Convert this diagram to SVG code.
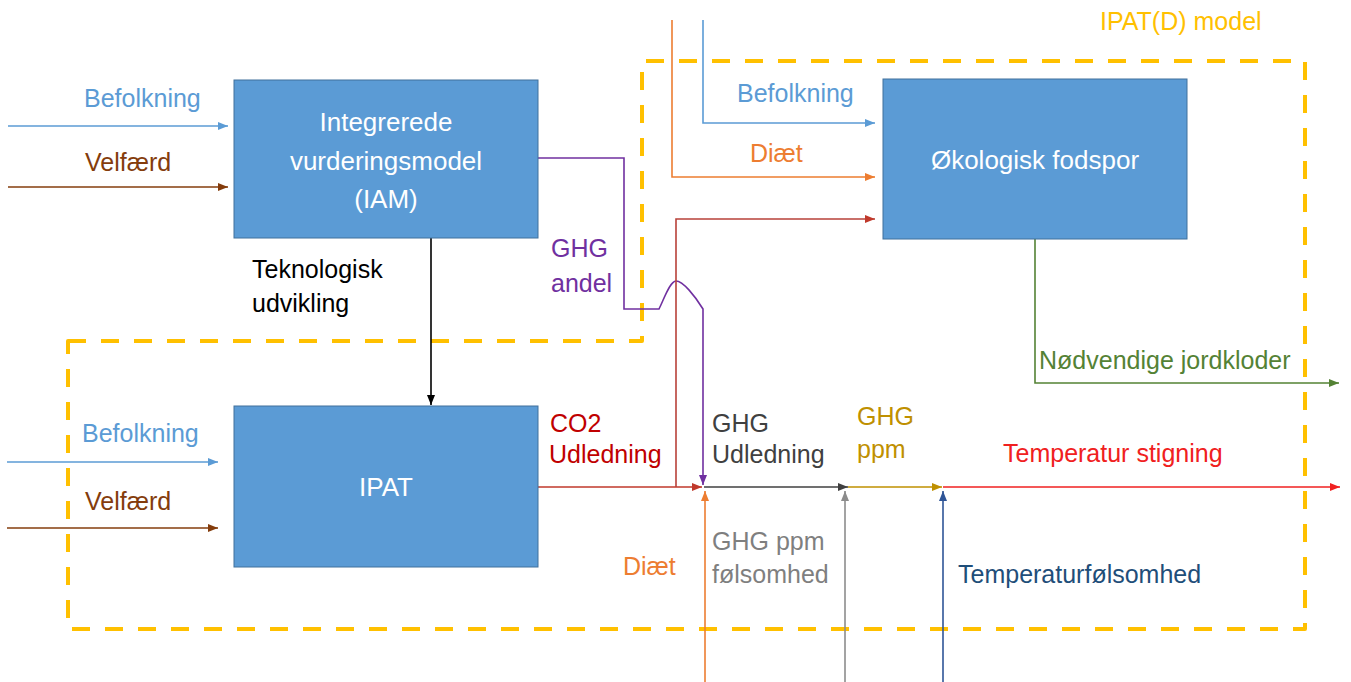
<svg xmlns="http://www.w3.org/2000/svg" width="1351" height="682" viewBox="0 0 1351 682">
  <style>
    text { font-family: "Liberation Sans", Arial, sans-serif; font-size: 25px; }
    .node rect { fill: #5B9BD5; stroke: #41719C; stroke-width: 1; }
    .node text { fill: #FFFFFF; text-anchor: middle; font-size: 26px; }
    .ln { fill: none; stroke-width: 1.6; }
    .boundary { fill: none; stroke: #FFC000; stroke-width: 4; stroke-dasharray: 18 15; stroke-linejoin: round; }
  </style>
  <defs>
    <marker id="ah-blue" viewBox="0 0 10 8" refX="10" refY="4" markerWidth="10" markerHeight="8" markerUnits="userSpaceOnUse" orient="auto"><path d="M0,0 L10,4 L0,8 Z" fill="#5B9BD5"/></marker>
    <marker id="ah-brown" viewBox="0 0 10 8" refX="10" refY="4" markerWidth="10" markerHeight="8" markerUnits="userSpaceOnUse" orient="auto"><path d="M0,0 L10,4 L0,8 Z" fill="#843C0C"/></marker>
    <marker id="ah-black" viewBox="0 0 10 8" refX="10" refY="4" markerWidth="10" markerHeight="8" markerUnits="userSpaceOnUse" orient="auto"><path d="M0,0 L10,4 L0,8 Z" fill="#000000"/></marker>
    <marker id="ah-purple" viewBox="0 0 10 8" refX="10" refY="4" markerWidth="10" markerHeight="8" markerUnits="userSpaceOnUse" orient="auto"><path d="M0,0 L10,4 L0,8 Z" fill="#7030A0"/></marker>
    <marker id="ah-red" viewBox="0 0 10 8" refX="10" refY="4" markerWidth="10" markerHeight="8" markerUnits="userSpaceOnUse" orient="auto"><path d="M0,0 L10,4 L0,8 Z" fill="#C0392B"/></marker>
    <marker id="ah-orange" viewBox="0 0 10 8" refX="10" refY="4" markerWidth="10" markerHeight="8" markerUnits="userSpaceOnUse" orient="auto"><path d="M0,0 L10,4 L0,8 Z" fill="#ED7D31"/></marker>
    <marker id="ah-dark" viewBox="0 0 10 8" refX="10" refY="4" markerWidth="10" markerHeight="8" markerUnits="userSpaceOnUse" orient="auto"><path d="M0,0 L10,4 L0,8 Z" fill="#404040"/></marker>
    <marker id="ah-gold" viewBox="0 0 10 8" refX="10" refY="4" markerWidth="10" markerHeight="8" markerUnits="userSpaceOnUse" orient="auto"><path d="M0,0 L10,4 L0,8 Z" fill="#BF9000"/></marker>
    <marker id="ah-gray" viewBox="0 0 10 8" refX="10" refY="4" markerWidth="10" markerHeight="8" markerUnits="userSpaceOnUse" orient="auto"><path d="M0,0 L10,4 L0,8 Z" fill="#8C8C8C"/></marker>
    <marker id="ah-navy" viewBox="0 0 10 8" refX="10" refY="4" markerWidth="10" markerHeight="8" markerUnits="userSpaceOnUse" orient="auto"><path d="M0,0 L10,4 L0,8 Z" fill="#2F5597"/></marker>
    <marker id="ah-temp" viewBox="0 0 10 8" refX="10" refY="4" markerWidth="10" markerHeight="8" markerUnits="userSpaceOnUse" orient="auto"><path d="M0,0 L10,4 L0,8 Z" fill="#F02020"/></marker>
    <marker id="ah-green" viewBox="0 0 10 8" refX="10" refY="4" markerWidth="10" markerHeight="8" markerUnits="userSpaceOnUse" orient="auto"><path d="M0,0 L10,4 L0,8 Z" fill="#548235"/></marker>
  </defs>

  <rect width="1351" height="682" fill="#FFFFFF"/>

  <!-- IPAT(D) model boundary -->
  <g id="boundary">
    <path class="boundary" d="M68,341 H642 V61 H1305 V629 H68 Z"/>
    <text x="1100" y="30" fill="#FFC000">IPAT(D) model</text>
  </g>

  <!-- Connectors -->
  <g id="connectors">
    <!-- inputs to the IAM -->
    <path class="ln" d="M8,126 H228" stroke="#5B9BD5" marker-end="url(#ah-blue)"/>
    <path class="ln" d="M8,187 H228" stroke="#843C0C" marker-end="url(#ah-brown)"/>
    <!-- IAM to IPAT -->
    <path class="ln" d="M431,238 V405" stroke="#000000" marker-end="url(#ah-black)"/>
    <!-- inputs to IPAT -->
    <path class="ln" d="M7,462 H218" stroke="#5B9BD5" marker-end="url(#ah-blue)"/>
    <path class="ln" d="M7,528 H218" stroke="#843C0C" marker-end="url(#ah-brown)"/>
    <!-- GHG share from the IAM, hopping over the red line -->
    <path class="ln" d="M538,158 H624 V309 H659 C664,299 670,281 676,281 C683,281 695,296 703,309 V485" stroke="#7030A0" marker-end="url(#ah-purple)"/>
    <!-- CO2 emissions -->
    <path class="ln" d="M538,487 H702" stroke="#C0392B" marker-end="url(#ah-red)"/>
    <path class="ln" d="M676,487 V219 H875" stroke="#B8413A" marker-end="url(#ah-red)"/>
    <!-- GHG chain -->
    <path class="ln" d="M704,487 H848" stroke="#404040" marker-end="url(#ah-dark)"/>
    <path class="ln" d="M848,487 H942" stroke="#BF9000" marker-end="url(#ah-gold)"/>
    <path class="ln" d="M943,487 H1340" stroke="#F02020" marker-end="url(#ah-temp)"/>
    <!-- bottom inputs -->
    <path class="ln" d="M705,682 V491" stroke="#ED7D31" marker-end="url(#ah-orange)"/>
    <path class="ln" d="M845,682 V491" stroke="#8C8C8C" marker-end="url(#ah-gray)"/>
    <path class="ln" d="M943,682 V491" stroke="#2F5597" marker-end="url(#ah-navy)"/>
    <!-- inputs to the ecological footprint -->
    <path class="ln" d="M703,20 V123 H875" stroke="#5B9BD5" marker-end="url(#ah-blue)"/>
    <path class="ln" d="M672,20 V177 H875" stroke="#ED7D31" marker-end="url(#ah-orange)"/>
    <!-- footprint output -->
    <path class="ln" d="M1035,239 V383 H1339" stroke="#548235" marker-end="url(#ah-green)"/>
  </g>

  <!-- Nodes -->
  <g id="node-iam" class="node">
    <rect x="234" y="80" width="304" height="158"/>
    <text x="386" y="131">Integrerede</text>
    <text x="386" y="170">vurderingsmodel</text>
    <text x="386" y="208">(IAM)</text>
  </g>
  <g id="node-ipat" class="node">
    <rect x="234" y="406" width="304" height="161"/>
    <text x="386" y="496">IPAT</text>
  </g>
  <g id="node-footprint" class="node">
    <rect x="883" y="79" width="304" height="160"/>
    <text x="1035" y="169">Økologisk fodspor</text>
  </g>

  <!-- Connector labels -->
  <g id="labels">
    <text x="84" y="107" fill="#5B9BD5">Befolkning</text>
    <text x="85" y="171" fill="#843C0C">Velfærd</text>
    <text x="82" y="442" fill="#5B9BD5">Befolkning</text>
    <text x="85" y="510" fill="#843C0C">Velfærd</text>
    <text x="252" y="278" fill="#000000">Teknologisk</text>
    <text x="252" y="312" fill="#000000">udvikling</text>
    <text x="551" y="257" fill="#7030A0">GHG</text>
    <text x="551" y="292" fill="#7030A0">andel</text>
    <text x="550" y="432" fill="#C00000">CO2</text>
    <text x="549" y="463" fill="#C00000">Udledning</text>
    <text x="712" y="432" fill="#404040">GHG</text>
    <text x="712" y="463" fill="#404040">Udledning</text>
    <text x="857" y="425" fill="#BF9000">GHG</text>
    <text x="857" y="458" fill="#BF9000">ppm</text>
    <text x="1003" y="462" fill="#F02020">Temperatur stigning</text>
    <text x="1039" y="369" fill="#548235">Nødvendige jordkloder</text>
    <text x="623" y="575" fill="#ED7D31">Diæt</text>
    <text x="712" y="550" fill="#7F7F7F">GHG ppm</text>
    <text x="712" y="583" fill="#7F7F7F">følsomhed</text>
    <text x="958" y="583" fill="#1F4E79">Temperaturfølsomhed</text>
    <text x="737" y="102" fill="#5B9BD5">Befolkning</text>
    <text x="750" y="162" fill="#ED7D31">Diæt</text>
  </g>
</svg>
